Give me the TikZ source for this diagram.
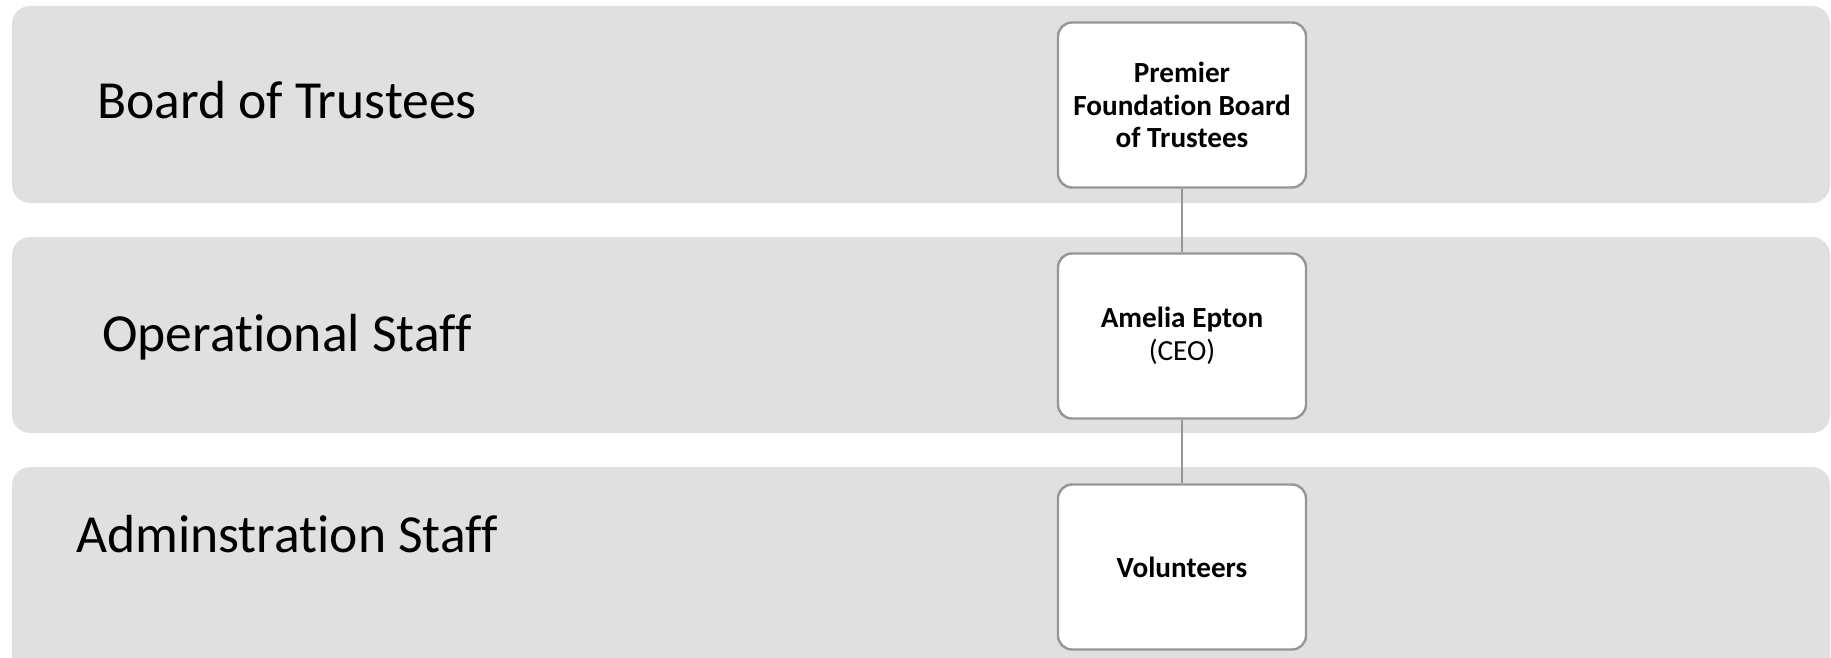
\documentclass[tikz,border=0pt]{standalone}
\usepackage{fontspec}
\setmainfont{Carlito}[Ligatures=NoCommon]
\definecolor{bandgray}{HTML}{E0E0E0}
\definecolor{edgegray}{HTML}{969696}
\begin{document}
\begin{tikzpicture}[x=0.5pt,y=-0.5pt,
  band/.style={fill=bandgray,rounded corners=9pt,draw=none},
  lanelabel/.style={anchor=base,font=\fontsize{26.8}{32}\selectfont,inner sep=0pt},
  orgbox/.style={draw=edgegray,line width=1.2pt,fill=white,rounded corners=7pt,
    minimum width=124pt,minimum height=82.5pt,align=center,inner sep=2pt,
    font=\fontsize{14.6}{16.3}\selectfont},
  link/.style={draw=edgegray,line width=1pt}]
\useasboundingbox (0,0) rectangle (1831,658);
\begin{scope}
\clip (0,0) rectangle (1831,658);
\fill[band] (12,6) rectangle (1830,203);
\fill[band] (12,237) rectangle (1830,433);
\fill[band] (12,467) rectangle (1830,680);
\end{scope}
\node[lanelabel] (l1) at (287,119) {Board of Trustees};
\node[lanelabel] (l2) at (287,351) {Operational Staff};
\node[lanelabel] (l3) at (287,552) {Adminstration Staff};
\node[orgbox] (b1) at (1182,105) {\textbf{Premier}\\\textbf{Foundation Board}\\\textbf{of Trustees}};
\node[orgbox] (b2) at (1182,336) {\textbf{Amelia Epton}\\(CEO)};
\node[orgbox] (b3) at (1182,567) {\textbf{Volunteers}};
\draw[link] (b1) -- (b2);
\draw[link] (b2) -- (b3);
\end{tikzpicture}
\end{document}
